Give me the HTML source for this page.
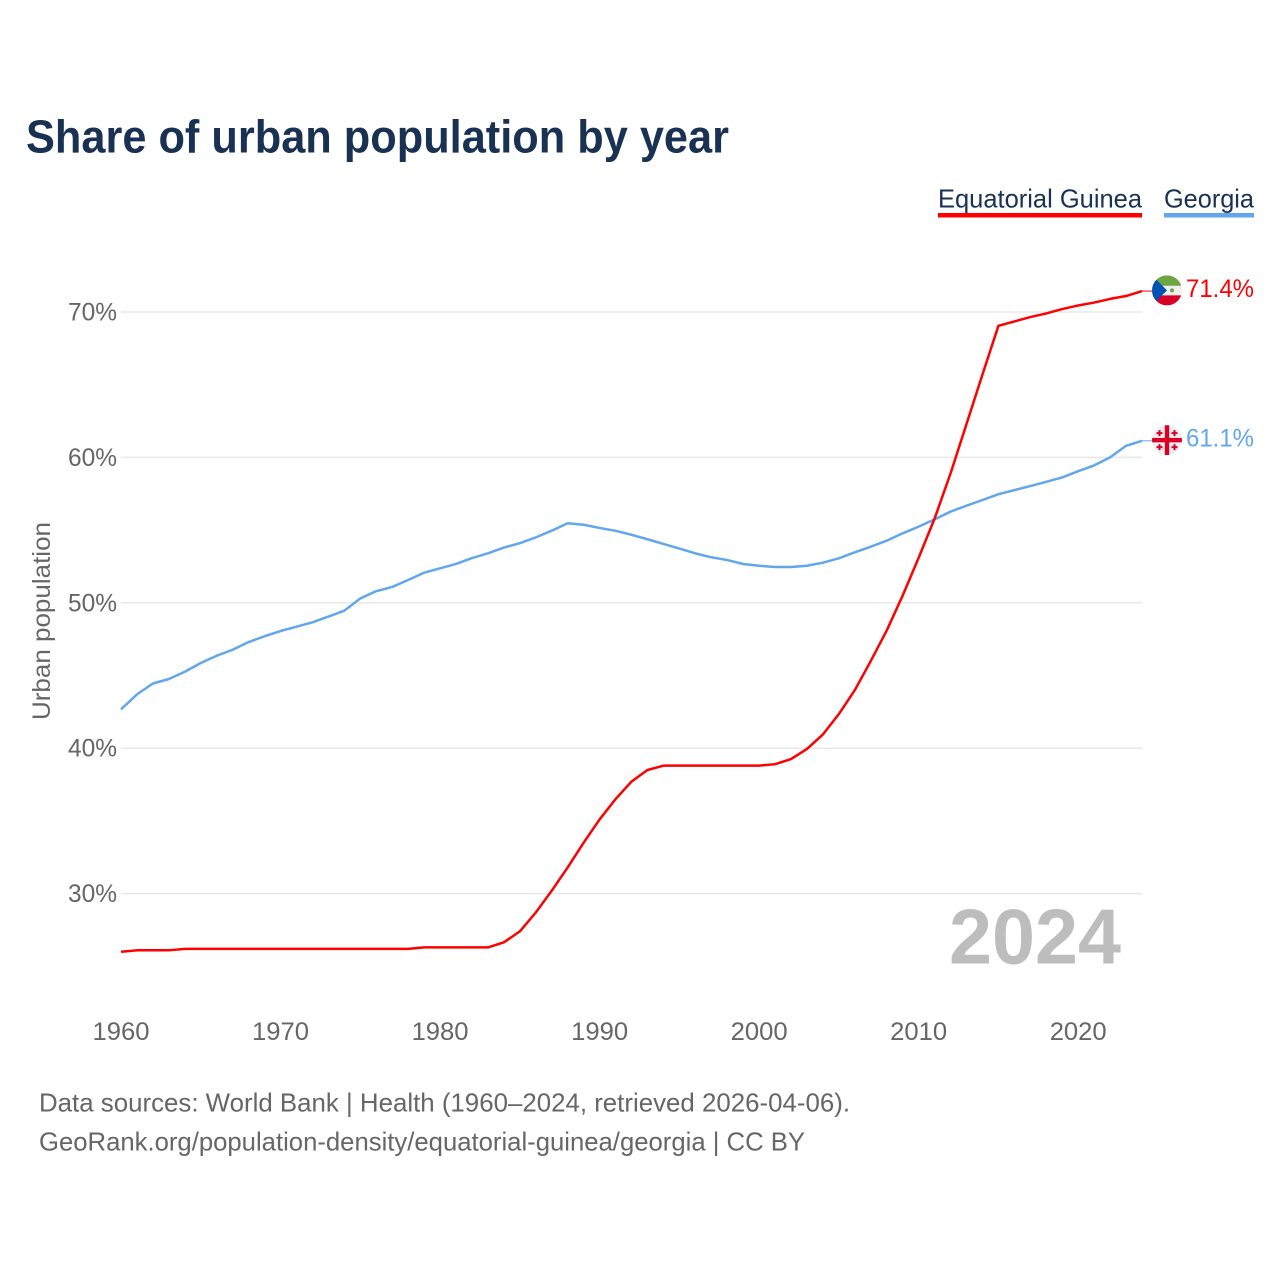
<!DOCTYPE html>
<html lang="en">
<head>
<meta charset="utf-8">
<title>Share of urban population by year</title>
<style>
html,body{margin:0;padding:0;background:#fff;width:1280px;height:1280px;overflow:hidden}
svg{display:block}
text{font-family:"Liberation Sans",sans-serif}
</style>
</head>
<body>
<svg id="chart" xmlns="http://www.w3.org/2000/svg" width="1280" height="1280" viewBox="0 0 1280 1280">
  <defs>
    <clipPath id="flag-clip"><circle cx="0" cy="0" r="15"></circle></clipPath>
  </defs>
  <text x="26" y="152.5" font-size="46" font-weight="700" fill="#193253" textLength="703" lengthAdjust="spacingAndGlyphs">Share of urban population by year</text>

  <g>
    <g>
      <text x="938" y="207.5" font-size="26" fill="#193253" textLength="204" lengthAdjust="spacingAndGlyphs">Equatorial Guinea</text>
      <rect x="938" y="213" width="204" height="4.5" fill="#ff0000"></rect>
    </g>
    <g>
      <text x="1164" y="207.5" font-size="26" fill="#193253" textLength="90" lengthAdjust="spacingAndGlyphs">Georgia</text>
      <rect x="1164" y="213" width="90" height="4.5" fill="#62a6ec"></rect>
    </g>
  </g>

  <g id="grid"></g>
  <g id="yticks"></g>
  <g id="xticks"></g>

  <text transform="translate(50,621) rotate(-90)" text-anchor="middle" font-size="25" fill="#666666" textLength="198" lengthAdjust="spacingAndGlyphs">Urban population</text>

  <text x="949" y="963.5" font-size="78" font-weight="700" fill="#bdbdbd" textLength="172" lengthAdjust="spacingAndGlyphs">2024</text>

  <g id="series"></g>

  <g id="flag-gq" clip-path="url(#flag-clip)">
    <rect x="-15" y="-15" width="30" height="10.5" fill="#6da544"></rect>
    <rect x="-15" y="-4.5" width="30" height="9.5" fill="#f0f0f0"></rect>
    <rect x="-15" y="5" width="30" height="10" fill="#d80027"></rect>
    <polygon points="-15,-15 0,0 -15,15" fill="#0052b4"></polygon>
    <circle cx="5" cy="0" r="2" fill="#6da544"></circle>
  </g>
  <g id="flag-ge" clip-path="url(#flag-clip)">
    <rect x="-15" y="-15" width="30" height="30" fill="#eeeeee"></rect>
    <rect x="-2.2" y="-15" width="4.4" height="30" fill="#d80027"></rect>
    <rect x="-15" y="-2.2" width="30" height="4.4" fill="#d80027"></rect>
    <path d="M-8.5-10h2v2h2v2h-2v2h-2v-2h-2v-2h2z M6.5-10h2v2h2v2h-2v2h-2v-2h-2v-2h2z M-8.5 4h2v2h2v2h-2v2h-2v-2h-2v-2h2z M6.5 4h2v2h2v2h-2v2h-2v-2h-2v-2h2z" fill="#d80027"></path>
  </g>

  <g id="end-labels"></g>

  <g>
    <text x="39" y="1111.5" font-size="26" fill="#666666" textLength="811" lengthAdjust="spacingAndGlyphs">Data sources: World Bank | Health (1960–2024, retrieved 2026-04-06).</text>
    <text x="39" y="1150.5" font-size="26" fill="#666666" textLength="766" lengthAdjust="spacingAndGlyphs">GeoRank.org/population-density/equatorial-guinea/georgia | CC BY</text>
  </g>
</svg>
<script>
var years = [1960,1961,1962,1963,1964,1965,1966,1967,1968,1969,1970,1971,1972,1973,1974,1975,1976,1977,1978,1979,1980,1981,1982,1983,1984,1985,1986,1987,1988,1989,1990,1991,1992,1993,1994,1995,1996,1997,1998,1999,2000,2001,2002,2003,2004,2005,2006,2007,2008,2009,2010,2011,2012,2013,2014,2015,2016,2017,2018,2019,2020,2021,2022,2023,2024];
var equatorialGuinea = [26.0,26.1,26.1,26.1,26.2,26.2,26.2,26.2,26.2,26.2,26.2,26.2,26.2,26.2,26.2,26.2,26.2,26.2,26.2,26.3,26.3,26.3,26.3,26.3,26.65,27.4,28.7,30.2,31.8,33.5,35.1,36.5,37.7,38.5,38.8,38.8,38.8,38.8,38.8,38.8,38.8,38.9,39.25,39.95,40.95,42.35,44.0,46.0,48.1,50.5,53.1,55.8,58.9,62.3,65.7,69.05,69.35,69.65,69.9,70.2,70.45,70.65,70.9,71.1,71.44];
var georgia = [42.67,43.7,44.45,44.76,45.26,45.86,46.36,46.77,47.3,47.7,48.06,48.36,48.66,49.05,49.46,50.3,50.8,51.09,51.57,52.07,52.37,52.67,53.08,53.4,53.8,54.1,54.5,54.96,55.47,55.37,55.15,54.95,54.68,54.37,54.05,53.73,53.4,53.13,52.94,52.67,52.55,52.46,52.46,52.55,52.76,53.06,53.47,53.86,54.27,54.78,55.24,55.74,56.27,56.68,57.07,57.47,57.75,58.03,58.32,58.62,59.05,59.45,60.0,60.8,61.14];
var yTicks = [30,40,50,60,70];
var xTicks = [1960,1970,1980,1990,2000,2010,2020];

var SVG_NS = 'http://www.w3.org/2000/svg';
var LEFT = 121, RIGHT = 1142;
function xScale(year) { return LEFT + (year - 1960) * (RIGHT - LEFT) / 64; }
function yScale(value) { return 312 + (70 - value) * 14.54; }
function make(tag, parent) {
  var el = document.createElementNS(SVG_NS, tag);
  parent.appendChild(el);
  return el;
}

var grid = document.getElementById('grid');
var yG = document.getElementById('yticks');
yTicks.forEach(function (t) {
  var line = make('line', grid);
  
  
  line.setAttribute('x1', LEFT);
  line.setAttribute('x2', RIGHT);
  line.setAttribute('y1', yScale(t));
  line.setAttribute('y2', yScale(t));
  line.setAttribute('stroke', '#e8e8e8');
  line.setAttribute('stroke-width', '1.5');
  var label = make('text', yG);
  
  
  label.setAttribute('x', 117);
  label.setAttribute('y', yScale(t) + 8.5);
  label.setAttribute('text-anchor', 'end');
  label.setAttribute('font-size', '25');
  label.setAttribute('fill', '#666666');
  label.setAttribute('textLength', '49');
  label.setAttribute('lengthAdjust', 'spacingAndGlyphs');
  label.textContent = t + '%';
});

var xG = document.getElementById('xticks');
xTicks.forEach(function (t) {
  var label = make('text', xG);
  
  
  label.setAttribute('x', xScale(t));
  label.setAttribute('y', 1040);
  label.setAttribute('text-anchor', 'middle');
  label.setAttribute('font-size', '25');
  label.setAttribute('fill', '#666666');
  label.setAttribute('textLength', '57');
  label.setAttribute('lengthAdjust', 'spacingAndGlyphs');
  label.textContent = t;
});

var seriesG = document.getElementById('series');
function drawSeries(values, color, name, flagId) {
  var pts = values.map(function (v, i) { return xScale(years[i]).toFixed(2) + ',' + yScale(v).toFixed(2); });
  var path = make('polyline', seriesG);
  
  
  path.setAttribute('points', pts.join(' '));
  path.setAttribute('fill', 'none');
  path.setAttribute('stroke', color);
  path.setAttribute('stroke-width', '2.5');
  path.setAttribute('stroke-linejoin', 'round');

  var last = values[values.length - 1];
  var endY = yScale(last);
  var stub = make('line', seriesG);
  
  
  stub.setAttribute('x1', RIGHT);
  stub.setAttribute('x2', 1152);
  stub.setAttribute('y1', endY);
  stub.setAttribute('y2', endY);
  stub.setAttribute('stroke', color);
  stub.setAttribute('stroke-width', '1');

  document.getElementById(flagId).setAttribute('transform', 'translate(1167,' + (endY - 0.7) + ')');

  var label = make('text', document.getElementById('end-labels'));
  
  
  label.setAttribute('x', 1186);
  label.setAttribute('y', endY + 5.7);
  label.setAttribute('font-size', '25');
  label.setAttribute('fill', color);
  label.setAttribute('textLength', '68');
  label.setAttribute('lengthAdjust', 'spacingAndGlyphs');
  label.textContent = last.toFixed(1) + '%';
}
drawSeries(georgia, '#62a6ec', 'georgia', 'flag-ge');
drawSeries(equatorialGuinea, '#ff0000', 'equatorial-guinea', 'flag-gq');
</script>
</body>
</html>
